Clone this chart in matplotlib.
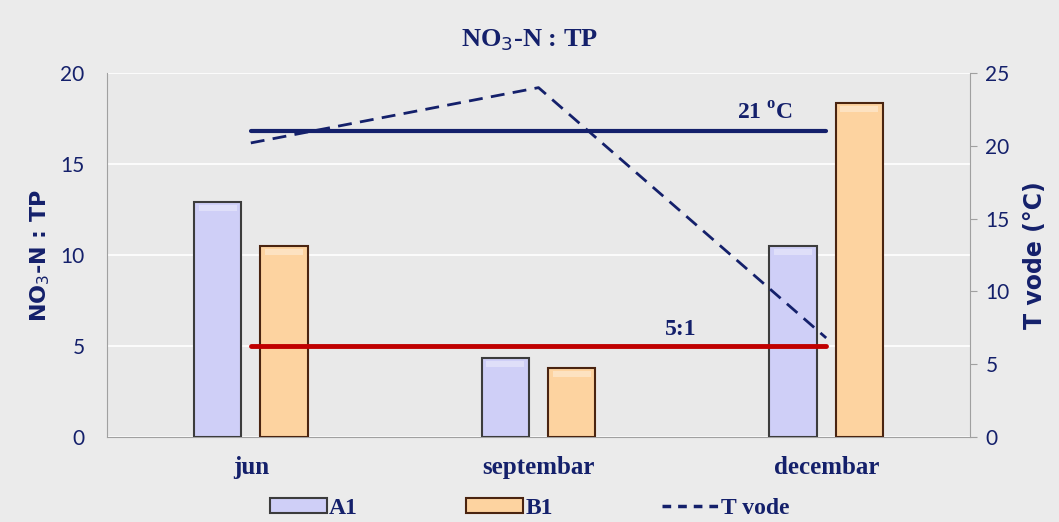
import matplotlib.pyplot as plt
import numpy as np
from matplotlib.lines import Line2D
from matplotlib.patches import Patch

# NO3-N : TP ratio per season, two sites, plus water temperature
months = ['jun', 'septembar', 'decembar']
a1 = [12.9, 4.35, 10.5]
b1 = [10.5, 3.8, 18.35]
t_vode = [20.2, 24.0, 6.8]
ratio_ref = 5      # 5:1 reference line
temp_ref = 21      # 21 oC reference line

navy = '#14206b'
red = '#c00000'
serif = 'Liberation Serif'
sans = 'Lato'

fig = plt.figure(figsize=(10.59, 5.22), dpi=100)
fig.patch.set_facecolor('#ebebeb')
ax = fig.add_axes([0.101, 0.163, 0.815, 0.697])
ax.set_facecolor('#e9e9e9')

x = np.arange(len(months))
w = 0.165
off = 0.115
ax.bar(x - off, a1, w, color='#cfcff7', edgecolor='#3c3c3c', linewidth=1.5, zorder=3)
ax.bar(x + off, b1, w, color='#fdd3a0', edgecolor='#4a2410', linewidth=1.5, zorder=3)
# light top bevel on each bar
for xs, vals in ((x - off, a1), (x + off, b1)):
    for xi, v in zip(xs, vals):
        ax.bar(xi, 0.35, w * 0.8, bottom=v - 0.5, color='white', alpha=0.35,
               linewidth=0, zorder=4)

ax.plot([x[0], x[-1]], [ratio_ref, ratio_ref], color=red, lw=3.5, zorder=5,
        solid_capstyle='round')
ax.text(1.44, 5.6, '5:1', color=navy, fontsize=17, fontweight='bold',
        family=serif, zorder=6)

ax.set_xlim(-0.5, 2.5)
ax.set_ylim(0, 20)
ax.set_yticks([0, 5, 10, 15, 20])
ax.grid(axis='y', color='white', lw=1.2, zorder=0)
ax.set_axisbelow(True)
ax.set_xticks(x)
ax.set_xticklabels(months, fontsize=18, fontweight='bold', color=navy, family=serif)
ax.tick_params(axis='x', length=0, pad=14)
ax.tick_params(axis='y', length=0, labelsize=15, labelcolor=navy, pad=16)
for lab in ax.get_yticklabels():
    lab.set_family(sans)
for s in ('top', 'right'):
    ax.spines[s].set_visible(False)
ax.spines['left'].set_color('#a0a0a0')
ax.spines['bottom'].set_color('#a0a0a0')
ax.set_ylabel('NO$_3$-N : TP', fontsize=16, fontweight='bold', color=navy, labelpad=6)

ax2 = ax.twinx()
ax2.set_ylim(0, 25)
ax2.set_yticks([0, 5, 10, 15, 20, 25])
ax2.plot(x, t_vode, color=navy, lw=2, ls=(0, (5, 3)), zorder=5)
ax2.plot([x[0], x[-1]], [temp_ref, temp_ref], color=navy, lw=3, zorder=5,
         solid_capstyle='round')
ax2.text(1.69, 21.8, '21 $^{\\mathregular{o}}$C', color=navy, fontsize=17,
         fontweight='bold', family=serif)
for s in ('top', 'left', 'bottom'):
    ax2.spines[s].set_visible(False)
ax2.spines['right'].set_color('#a0a0a0')
ax2.tick_params(axis='y', length=5, color='#a0a0a0', labelsize=15,
                labelcolor=navy, pad=6)
for lab in ax2.get_yticklabels():
    lab.set_family(sans)
ax2.set_ylabel('T vode (°C)', fontsize=17, fontweight='bold', color=navy, labelpad=10)

fig.text(0.5, 0.923, 'NO$_3$-N : TP', ha='center', va='center', fontsize=19,
         fontweight='bold', color=navy, family=serif)

handles = [Patch(facecolor='#cfcff7', edgecolor='#3c3c3c', lw=1.5),
           Patch(facecolor='#fdd3a0', edgecolor='#4a2410', lw=1.5),
           Line2D([], [], color=navy, lw=2.5, ls=(0, (2.5, 2)))]
fig.legend(handles, ['A1', 'B1', 'T vode'], loc='lower center', ncol=3,
           bbox_to_anchor=(0.5, -0.035), frameon=False, handlelength=2.4,
           handleheight=0.6, columnspacing=4.6, handletextpad=0.1,
           prop={'family': serif, 'weight': 'bold', 'size': 17},
           labelcolor=navy)

fig.savefig('out.png', dpi=100, facecolor=fig.get_facecolor())
